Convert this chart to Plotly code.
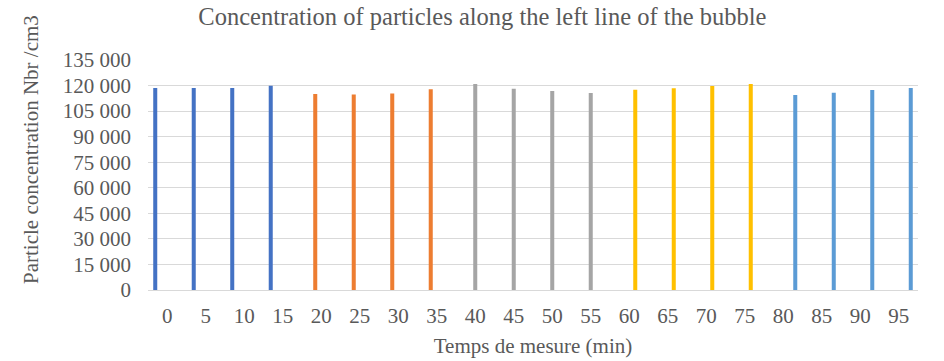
import plotly.graph_objects as go

# Measurement times (min) and particle concentrations, one series per 20-min block
times = ["0", "5", "10", "15", "20", "25", "30", "35", "40", "45",
         "50", "55", "60", "65", "70", "75", "80", "85", "90", "95"]

block1_times = ["0", "5", "10", "15"]
block1_values = [118500, 118500, 118500, 119900]

block2_times = ["20", "25", "30", "35"]
block2_values = [115000, 114800, 115400, 117800]

block3_times = ["40", "45", "50", "55"]
block3_values = [120900, 118100, 116800, 115600]

block4_times = ["60", "65", "70", "75"]
block4_values = [117500, 118400, 119700, 120900]

block5_times = ["80", "85", "90", "95"]
block5_values = [114400, 115800, 117400, 118500]

series = [
    (block1_times, block1_values, "#4472C4"),
    (block2_times, block2_values, "#ED7D31"),
    (block3_times, block3_values, "#A5A5A5"),
    (block4_times, block4_values, "#FFC000"),
    (block5_times, block5_values, "#5B9BD5"),
]

FONT = "Liberation Serif"
TEXT = "#595959"
SIZE = 21

fig = go.Figure()
for ts, vs, color in series:
    lookup = dict(zip(ts, vs))
    fig.add_trace(go.Bar(
        x=times,
        y=[lookup.get(t) for t in times],
        marker=dict(color=color, line=dict(width=0)),
        showlegend=False,
    ))

fig.update_layout(
    width=944, height=361,
    margin=dict(l=148, r=26, t=60, b=71),
    paper_bgcolor="white", plot_bgcolor="white",
    barmode="group", bargap=0.22, bargroupgap=0.33,
    separators=", ",
    font=dict(family=FONT, color=TEXT, size=SIZE),
    title=dict(
        text="Concentration of particles along the left line of the bubble",
        x=0.511, xanchor="center", y=0.955, yanchor="middle",
        font=dict(family=FONT, size=24.5, color=TEXT),
    ),
    xaxis=dict(
        type="category", categoryorder="array", categoryarray=times,
        showgrid=False, showline=True, linecolor="#D9D9D9", linewidth=1,
        ticks="", ticklabelstandoff=7, tickfont=dict(family=FONT, size=SIZE, color=TEXT),
        title=dict(text="Temps de mesure (min)", font=dict(family=FONT, size=SIZE, color=TEXT), standoff=11),
        automargin=False,
    ),
    yaxis=dict(
        range=[0, 135000], dtick=15000, tickformat=",d",
        showgrid=True, gridcolor="#D9D9D9", gridwidth=1,
        zeroline=False, showline=False, ticks="",
        ticklabelstandoff=16, tickfont=dict(family=FONT, size=SIZE, color=TEXT),
        automargin=False,
    ),
)

# Vertical y-axis title, centred a little above the plot-area middle
fig.add_annotation(
    text="Particle concentration Nbr /cm3",
    textangle=-90,
    xref="paper", yref="paper", x=0, y=0.6087,
    xanchor="center", yanchor="middle", xshift=-117,
    showarrow=False,
    font=dict(family=FONT, size=SIZE, color=TEXT),
)

fig.write_html("out.html")
